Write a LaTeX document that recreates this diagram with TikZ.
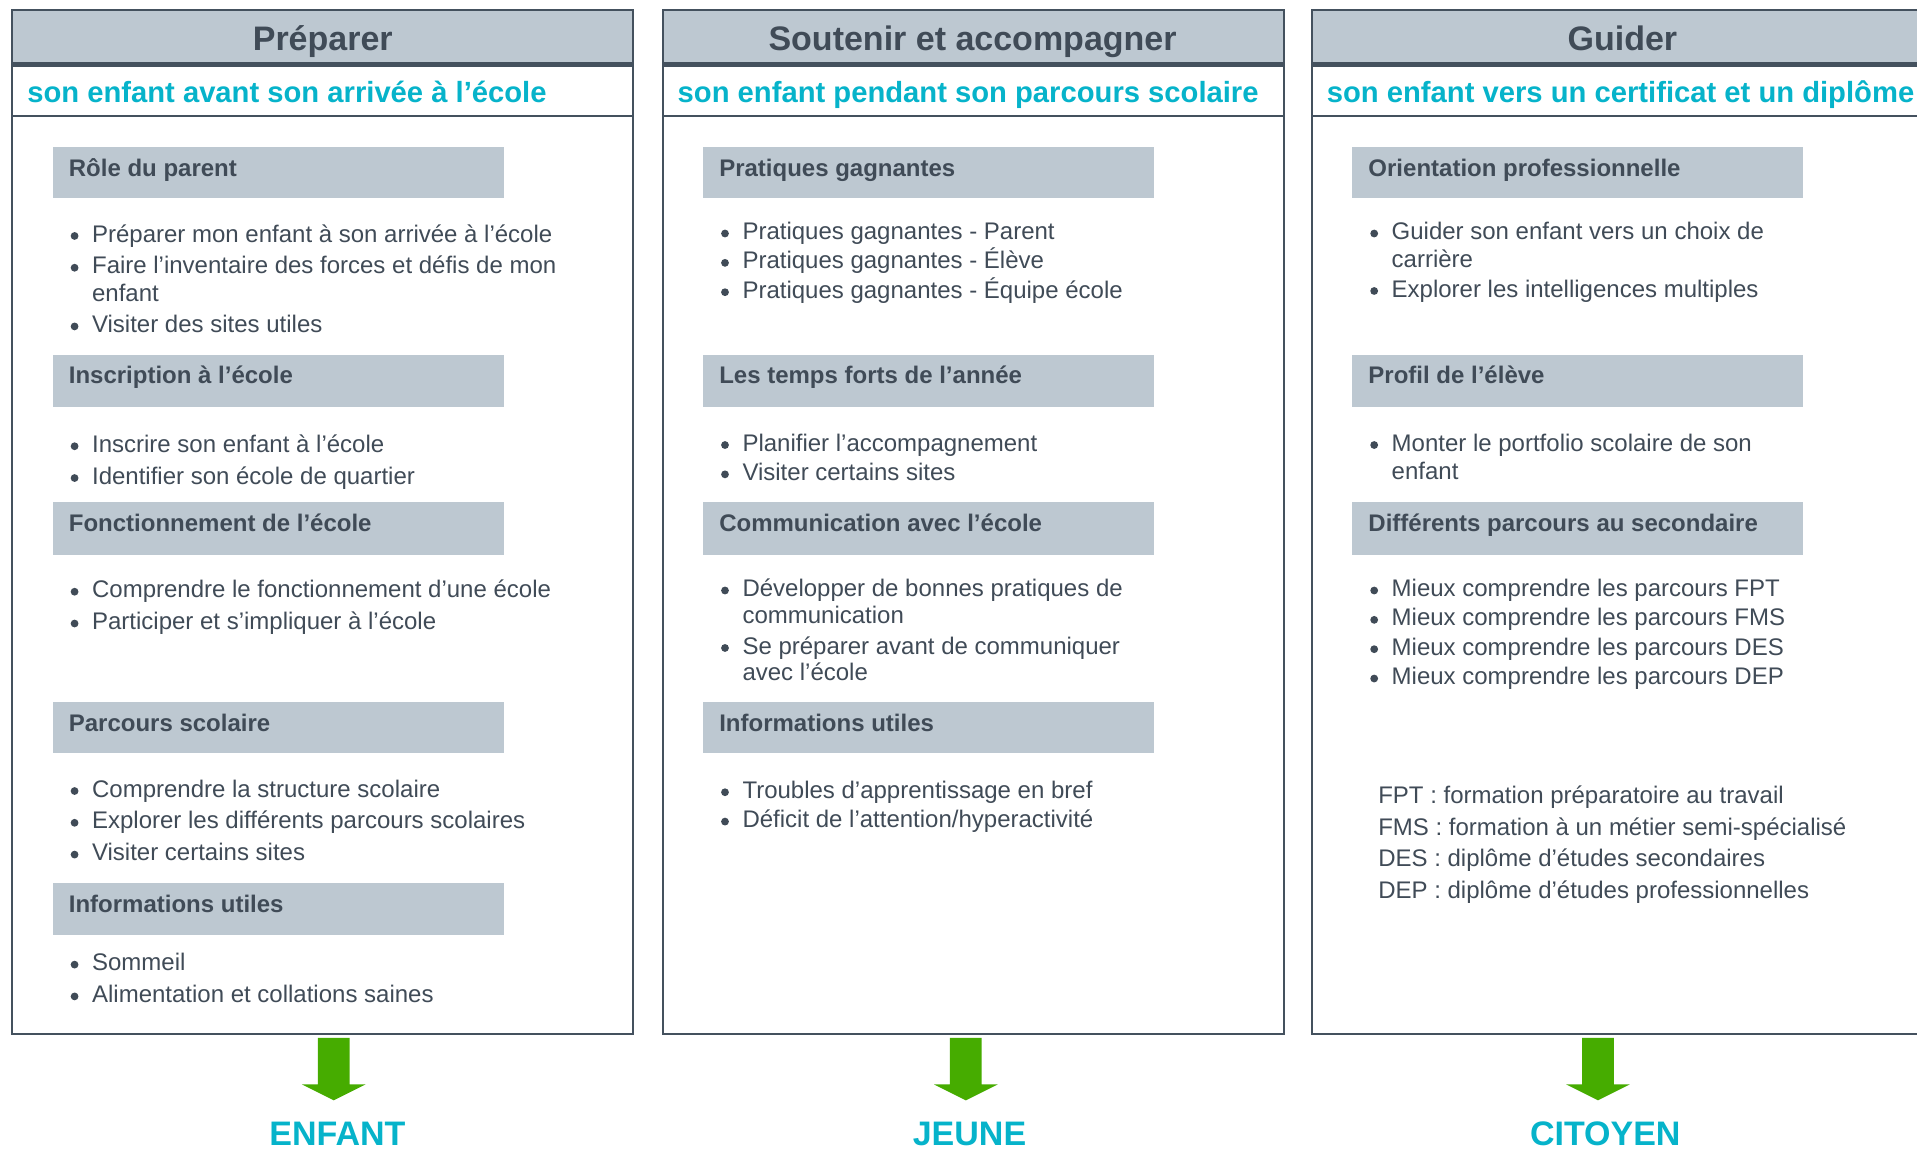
\documentclass[tikz,border=0pt]{standalone}
\usepackage{fontspec}
\setmainfont{Liberation Sans}
\usetikzlibrary{calc}
\definecolor{hdrgray}{HTML}{BDC8D1}
\definecolor{darkln}{HTML}{44515E}
\definecolor{txt}{HTML}{404B57}
\definecolor{cyanT}{HTML}{06B3CA}
\definecolor{greenA}{HTML}{46AC00}
\newcommand\colframe[1]{%
  \fill[hdrgray] (#1,8) rectangle (#1+508,51);
  \draw[darkln,line width=2.5pt] (#1,52.5) -- (#1+508,52.5);
  \draw[darkln,line width=0.9pt] (#1,95) -- (#1+508,95);
  \draw[darkln,line width=0.9pt] (#1,8) rectangle (#1+508,846);}
\newcommand\graybox[5]{% name, colleft, top, bottom, text
  \fill[hdrgray] (#2+33,#3) rectangle (#2+402,#4);
  \node[boxtitle] (#1) at (#2+46,#3+24) {#5};}
\newcommand\bline[4]{% name, colleft, ycenter, text
  \node[bulletdot] (#1b) at (#2+51,#3+2) {};
  \node[bodytext] (#1) at (#2+65,#3+7) {#4};}
\newcommand\contline[4]{% continuation line
  \node[bodytext] (#1) at (#2+65,#3+7) {#4};}
\newcommand\greenarrow[2]{% name, xcenter
  \fill[greenA] (#2-13,849) -- (#2+13,849) -- (#2+13,887) -- (#2+26,887)
     -- (#2,900) -- (#2-26,887) -- (#2-13,887) -- cycle;
  \coordinate (#1) at (#2,900);}
\begin{document}
\begin{tikzpicture}[x=0.6113pt,y=-0.6113pt,
  hdr/.style={anchor=base,inner sep=0pt,text=txt,font=\fontsize{17}{20}\selectfont\bfseries},
  subt/.style={anchor=base west,inner sep=0pt,text=cyanT,font=\fontsize{14.6}{18}\selectfont\bfseries},
  boxtitle/.style={anchor=base west,inner sep=0pt,text=txt,font=\fontsize{12}{15}\selectfont\bfseries},
  bodytext/.style={anchor=base west,inner sep=0pt,text=txt,font=\fontsize{12}{15}\selectfont},
  bulletdot/.style={circle,fill=txt,inner sep=0pt,minimum size=3.9pt},
  biglabel/.style={anchor=base,inner sep=0pt,text=cyanT,font=\fontsize{17}{20}\selectfont\bfseries}]
\clip (0,0) rectangle (1568,941);
\fill[white] (0,0) rectangle (1568,941);

% ---------- Column 1 ----------
\colframe{10}
\node[hdr] (h1) at (264,41) {Préparer};
\node[subt] (s1) at (22,84) {son enfant avant son arrivée à l’école};
\graybox{c1t1}{10}{120}{162}{Rôle du parent}
\bline{c1a}{10}{191}{Préparer mon enfant à son arrivée à l’école}
\bline{c1b}{10}{217}{Faire l’inventaire des forces et défis de mon}
\contline{c1bb}{10}{240}{enfant}
\bline{c1c}{10}{265}{Visiter des sites utiles}
\graybox{c1t2}{10}{290}{333}{Inscription à l’école}
\bline{c1d}{10}{363}{Inscrire son enfant à l’école}
\bline{c1e}{10}{389}{Identifier son école de quartier}
\graybox{c1t3}{10}{411}{454}{Fonctionnement de l’école}
\bline{c1f}{10}{482}{Comprendre le fonctionnement d’une école}
\bline{c1g}{10}{508}{Participer et s’impliquer à l’école}
\graybox{c1t4}{10}{574}{616}{Parcours scolaire}
\bline{c1h}{10}{645}{Comprendre la structure scolaire}
\bline{c1i}{10}{671}{Explorer les différents parcours scolaires}
\bline{c1j}{10}{697}{Visiter certains sites}
\graybox{c1t5}{10}{722}{765}{Informations utiles}
\bline{c1k}{10}{787}{Sommeil}
\bline{c1l}{10}{813}{Alimentation et collations saines}

% ---------- Column 2 ----------
\colframe{542}
\node[hdr] (h2) at (795.5,41) {Soutenir et accompagner};
\node[subt] (s2) at (554,84) {son enfant pendant son parcours scolaire};
\graybox{c2t1}{542}{120}{162}{Pratiques gagnantes}
\bline{c2a}{542}{189}{Pratiques gagnantes - Parent}
\bline{c2b}{542}{213}{Pratiques gagnantes - Élève}
\bline{c2c}{542}{237}{Pratiques gagnantes - Équipe école}
\graybox{c2t2}{542}{290}{333}{Les temps forts de l’année}
\bline{c2d}{542}{362}{Planifier l’accompagnement}
\bline{c2e}{542}{386}{Visiter certains sites}
\graybox{c2t3}{542}{411}{454}{Communication avec l’école}
\bline{c2f}{542}{481}{Développer de bonnes pratiques de}
\contline{c2ff}{542}{503}{communication}
\bline{c2g}{542}{528}{Se préparer avant de communiquer}
\contline{c2gg}{542}{550}{avec l’école}
\graybox{c2t4}{542}{574}{616}{Informations utiles}
\bline{c2h}{542}{646}{Troubles d’apprentissage en bref}
\bline{c2i}{542}{670}{Déficit de l’attention/hyperactivité}

% ---------- Column 3 ----------
\colframe{1073}
\node[hdr] (h3) at (1327,41) {Guider};
\node[subt] (s3) at (1085,84) {son enfant vers un certificat et un diplôme};
\graybox{c3t1}{1073}{120}{162}{Orientation professionnelle}
\bline{c3a}{1073}{189}{Guider son enfant vers un choix de}
\contline{c3aa}{1073}{212}{carrière}
\bline{c3b}{1073}{236}{Explorer les intelligences multiples}
\graybox{c3t2}{1073}{290}{333}{Profil de l’élève}
\bline{c3c}{1073}{362}{Monter le portfolio scolaire de son}
\contline{c3cc}{1073}{385}{enfant}
\graybox{c3t3}{1073}{411}{454}{Différents parcours au secondaire}
\bline{c3d}{1073}{481}{Mieux comprendre les parcours FPT}
\bline{c3e}{1073}{505}{Mieux comprendre les parcours FMS}
\bline{c3f}{1073}{529}{Mieux comprendre les parcours DES}
\bline{c3g}{1073}{553}{Mieux comprendre les parcours DEP}
\node[bodytext] (lg1) at (1127,657) {FPT : formation préparatoire au travail};
\node[bodytext] (lg2) at (1127,683) {FMS : formation à un métier semi-spécialisé};
\node[bodytext] (lg3) at (1127,709) {DES : diplôme d’études secondaires};
\node[bodytext] (lg4) at (1127,735) {DEP : diplôme d’études professionnelles};

% ---------- Arrows and labels ----------
\greenarrow{a1}{273}
\greenarrow{a2}{790}
\greenarrow{a3}{1307}
\node[biglabel] (l1) at (276,937) {ENFANT};
\node[biglabel] (l2) at (793,937) {JEUNE};
\node[biglabel] (l3) at (1313,937) {CITOYEN};
\end{tikzpicture}
\end{document}
